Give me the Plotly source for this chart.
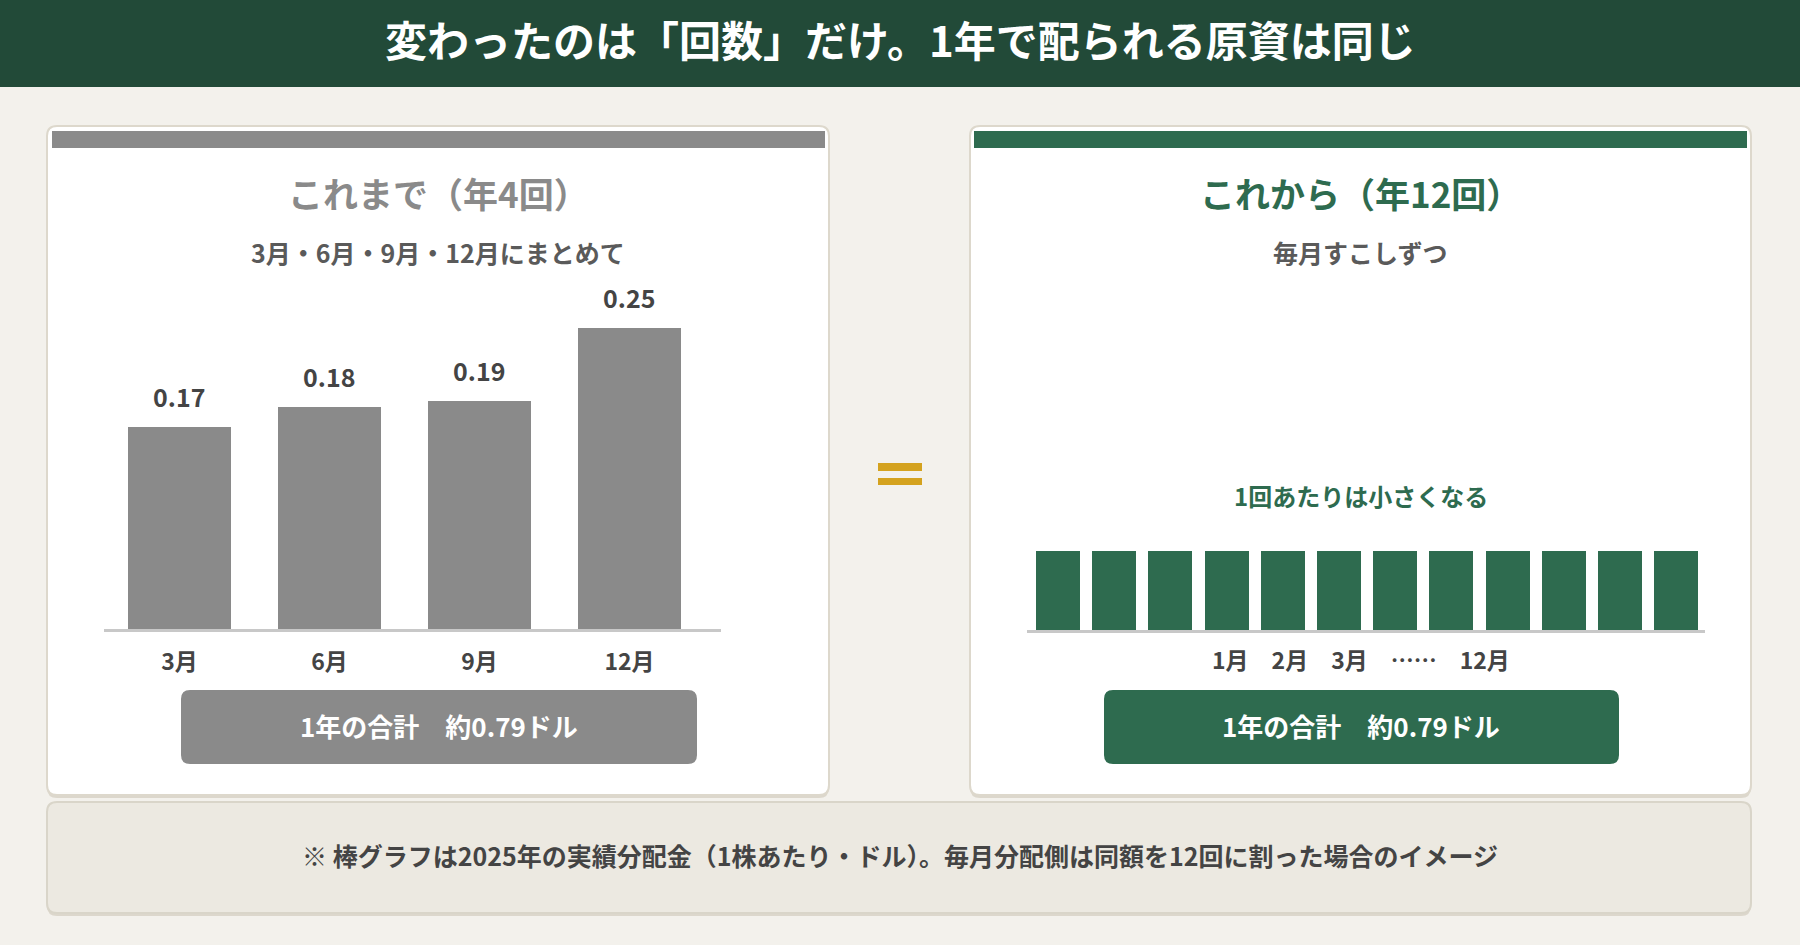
import plotly.graph_objects as go

W, H = 1800, 945

# ---------------- data ----------------
quarter_months = ["3月", "6月", "9月", "12月"]
quarter_values = [0.168, 0.184, 0.189, 0.25]
quarter_labels = ["0.17", "0.18", "0.19", "0.25"]

monthly_months = ["1月", "2月", "3月", "4月", "5月", "6月", "7月", "8月", "9月", "10月", "11月", "12月"]
monthly_values = [0.066, 0.066, 0.066, 0.066, 0.066, 0.066, 0.066, 0.066, 0.066, 0.066, 0.066, 0.066]

title_text = "変わったのは「回数」だけ。1年で配られる原資は同じ"
left_title = "これまで（年4回）"
left_sub = "3月・6月・9月・12月にまとめて"
right_title = "これから（年12回）"
right_sub = "毎月すこしずつ"
right_note = "1回あたりは小さくなる"
right_axis_text = "1月　2月　3月　……　12月"
total_text = "1年の合計　約0.79ドル"
footnote = "※ 棒グラフは2025年の実績分配金（1株あたり・ドル）。毎月分配側は同額を12回に割った場合のイメージ"

# ---------------- styles ----------------
FONT = "Noto Sans CJK JP, Noto Sans, sans-serif"
BG = "#f3f1ec"
HEADER = "#224a38"
GRAY = "#8a8a8a"
GREEN = "#2e6b4f"
GOLD = "#d4a21e"
DARK = "#444444"
SUBC = "#5a5a5a"
CARD_LINE = "#ddd8cc"


def px(x):
    return x / W


def py(y):
    return 1 - y / H


def rrect(x0, y0, x1, y1, r, fill, line=None, lw=0):
    rx, ry = r / W, r / H
    X0, X1 = px(x0), px(x1)
    Y0, Y1 = py(y0), py(y1)  # Y0 top (larger), Y1 bottom
    path = (f"M{X0+rx},{Y0} L{X1-rx},{Y0} Q{X1},{Y0} {X1},{Y0-ry} "
            f"L{X1},{Y1+ry} Q{X1},{Y1} {X1-rx},{Y1} "
            f"L{X0+rx},{Y1} Q{X0},{Y1} {X0},{Y1+ry} "
            f"L{X0},{Y0-ry} Q{X0},{Y0} {X0+rx},{Y0} Z")
    return dict(type="path", path=path, xref="paper", yref="paper",
                fillcolor=fill, line=dict(color=line or fill, width=lw), layer="below")


def rect(x0, y0, x1, y1, fill, layer="below"):
    return dict(type="rect", xref="paper", yref="paper",
                x0=px(x0), x1=px(x1), y0=py(y1), y1=py(y0),
                fillcolor=fill, line=dict(width=0), layer=layer)


def text(x, y, s, size, color, bold=True):
    return dict(xref="paper", yref="paper", x=px(x), y=py(y), text=(f"<b>{s}</b>" if bold else s),
                showarrow=False, xanchor="center", yanchor="middle",
                font=dict(family=FONT, size=size, color=color))


fig = go.Figure()

fig.add_trace(go.Bar(
    x=quarter_months, y=quarter_values, marker=dict(color=GRAY, line=dict(width=0)),
    width=0.687, xaxis="x", yaxis="y", hoverinfo="skip", showlegend=False))

fig.add_trace(go.Bar(
    x=monthly_months, y=monthly_values, marker=dict(color=GREEN, line=dict(width=0)),
    width=0.783, xaxis="x2", yaxis="y2", hoverinfo="skip", showlegend=False))

shapes = []
# header
shapes.append(rect(0, 0, W, 87, HEADER))
# cards (shadow + body)
for (x0, x1) in [(47, 829), (970, 1751)]:
    shapes.append(rrect(x0, 129, x1, 798, 10, "#dcd7cc"))
    shapes.append(rrect(x0, 126, x1, 795, 10, "#ffffff", CARD_LINE, 2))
# top colour strips
shapes.append(rect(52, 131, 825, 148, GRAY))
shapes.append(rect(974, 131, 1747, 148, GREEN))
# totals boxes
shapes.append(rrect(181, 690, 697, 764, 9, GRAY))
shapes.append(rrect(1104, 690, 1619, 764, 9, GREEN))
# equals sign
shapes.append(rect(878, 463, 922, 471, GOLD, layer="above"))
shapes.append(rect(878, 478, 922, 485, GOLD, layer="above"))
# footnote box
shapes.append(rrect(47, 804, 1751, 916, 10, "#dcd7cc"))
shapes.append(rrect(47, 802, 1751, 913, 10, "#ece9e1", "#d9d5c9", 2))

annotations = [
    text(900, 38, title_text, 42, "#ffffff"),
    text(438, 193, left_title, 35, GRAY),
    text(1360, 193, right_title, 35, GREEN),
    text(438, 252, left_sub, 25, SUBC),
    text(1360, 252, right_sub, 25, SUBC),
    text(1361, 496, right_note, 24, GREEN),
    text(1361, 659, right_axis_text, 23, DARK),
    text(439, 725, total_text, 26, "#ffffff"),
    text(1361, 725, total_text, 26, "#ffffff"),
    text(900, 855, footnote, 25, DARK),
]
for m, v, lab in zip(quarter_months, quarter_values, quarter_labels):
    annotations.append(dict(xref="x", yref="y", x=m, y=v, text=f"<b>{lab}</b>", showarrow=False,
                            xanchor="center", yanchor="middle", yshift=31,
                            font=dict(family=FONT, size=25, color=DARK)))

# axis geometry (pixels)
left_x0, left_x1 = 104, 721
right_x0, right_x1 = 1027, 1705
plot_top = 300
left_base, right_base = 629, 630
px_per_unit = 1204.0

fig.update_layout(
    width=W, height=H, margin=dict(l=0, r=0, t=0, b=0),
    paper_bgcolor=BG, plot_bgcolor="rgba(0,0,0,0)",
    font=dict(family=FONT, color=DARK),
    shapes=shapes, annotations=annotations, showlegend=False,
    bargap=0,
    xaxis=dict(domain=[px(left_x0), px(left_x1)], anchor="y", type="category",
               categoryorder="array", categoryarray=quarter_months,
               range=[-0.503, 3.61], showgrid=False, zeroline=False,
               showline=True, linecolor="#c8c8c8", linewidth=3, ticks="",
               ticklabelstandoff=10,
               tickfont=dict(family=FONT, size=23, color=DARK), fixedrange=True),
    yaxis=dict(domain=[py(left_base), py(plot_top)], anchor="x",
               range=[0, (left_base - plot_top) / px_per_unit], visible=False, fixedrange=True),
    xaxis2=dict(domain=[px(right_x0), px(right_x1)], anchor="y2", type="category",
                categoryorder="array", categoryarray=monthly_months,
                range=[-0.55, 11.51], showgrid=False, zeroline=False,
                showline=True, linecolor="#c8c8c8", linewidth=3, ticks="",
                showticklabels=False, fixedrange=True),
    yaxis2=dict(domain=[py(right_base), py(plot_top)], anchor="x2",
                range=[0, (right_base - plot_top) / px_per_unit], visible=False, fixedrange=True),
)

# bold tick labels
fig.update_xaxes(selector=dict(anchor="y"), ticktext=[f"<b>{m}</b>" for m in quarter_months],
                 tickvals=quarter_months)

fig.write_html("out.html", config=dict(displayModeBar=False))
